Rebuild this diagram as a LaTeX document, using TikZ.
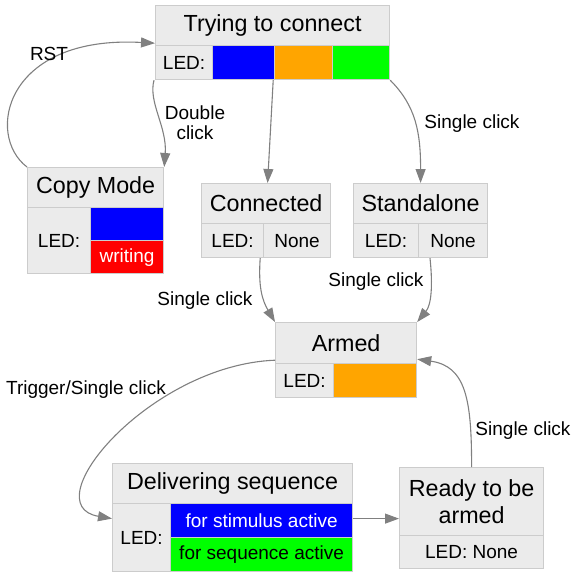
\documentclass[tikz,border=0pt]{standalone}
\usepackage{fontspec}
\setmainfont{Liberation Sans}
\usetikzlibrary{arrows.meta,calc}
\definecolor{boxfill}{HTML}{EBEBEB}
\definecolor{boxline}{HTML}{CCCCCC}
\definecolor{edgegray}{HTML}{808080}
\definecolor{ledblue}{HTML}{0000FF}
\definecolor{ledorange}{HTML}{FFA500}
\definecolor{ledgreen}{HTML}{00FF00}
\definecolor{ledred}{HTML}{FF0000}
\tikzset{
  cell/.style={draw=boxline, fill=boxfill, line width=1.2pt, inner sep=0pt, anchor=north west,
    font=\fontsize{19}{22}\selectfont, align=center},
  titlecell/.style={cell, font=\fontsize{23.3}{27}\selectfont},
  edge/.style={draw=edgegray, line width=1.1pt, -{Triangle[length=14pt,width=10pt]}},
  elabel/.style={font=\fontsize{19}{20}\selectfont, align=center, inner sep=0pt}
}
\begin{document}
\begin{tikzpicture}[x=1pt,y=-1pt]
\useasboundingbox (0,0) rectangle (578,576);
% Trying to connect
\node[titlecell, minimum width=234, minimum height=40] (tctitle) at (155,5) {Trying to connect};
\node[cell, minimum width=57, minimum height=34] (tcled) at (155,45) {LED:};
\node[cell, fill=ledblue, minimum width=62, minimum height=34] (tcblue) at (212,45) {};
\node[cell, fill=ledorange, minimum width=58, minimum height=34] (tcorange) at (274,45) {};
\node[cell, fill=ledgreen, minimum width=57, minimum height=34] (tcgreen) at (332,45) {};
% Copy Mode
\node[titlecell, minimum width=136, minimum height=40] (cmtitle) at (27,167) {Copy Mode};
\node[cell, minimum width=63, minimum height=66] (cmled) at (27,207) {LED:};
\node[cell, fill=ledblue, minimum width=73, minimum height=33] (cmblue) at (90,207) {};
\node[cell, fill=ledred, text=white, minimum width=73, minimum height=33] (cmred) at (90,240) {writing};
% Connected
\node[titlecell, minimum width=129, minimum height=40] (cntitle) at (201,183) {Connected};
\node[cell, minimum width=62, minimum height=34] (cnled) at (201,223) {LED:};
\node[cell, minimum width=67, minimum height=34] (cnnone) at (263,223) {None};
% Standalone
\node[titlecell, minimum width=134, minimum height=40] (sttitle) at (353,183) {Standalone};
\node[cell, minimum width=65, minimum height=34] (stled) at (353,223) {LED:};
\node[cell, minimum width=69, minimum height=34] (stnone) at (418,223) {None};
% Armed
\node[titlecell, minimum width=141, minimum height=41] (artitle) at (275,322) {Armed};
\node[cell, minimum width=58, minimum height=34] (arled) at (275,363) {LED:};
\node[cell, fill=ledorange, minimum width=83, minimum height=34] (arorange) at (333,363) {};
% Delivering sequence
\node[titlecell, minimum width=240, minimum height=40] (dstitle) at (112,463) {Delivering sequence};
\node[cell, minimum width=58, minimum height=68] (dsled) at (112,503) {LED:};
\node[cell, fill=ledblue, text=white, minimum width=182, minimum height=34] (dsblue) at (170,503) {for stimulus active};
\node[cell, fill=ledgreen, minimum width=182, minimum height=34] (dsgreen) at (170,537) {for sequence active};
% Ready to be armed
\node[titlecell, minimum width=144, minimum height=68] (rdtitle) at (399,467) {Ready to be\\armed};
\node[cell, minimum width=144, minimum height=33] (rdled) at (399,535) {LED: None};

% Edges
\draw[edge] ($(tcled.south west)+(-1,0)$) .. controls +(-6,22) and +(3,-40) .. (cmtitle.north east);
\node[elabel] (lbldbl) at (195,123) {Double\\click};

\draw[edge] (cmtitle.north west) .. controls (-15,135) and (5,35) .. ($(tctitle.south west)+(0,-3)$);
\node[elabel] (lblrst) at (49,54) {RST};

\draw[edge] ($(tcblue.south east)+(-2,0)$) -- ($(cntitle.north)+(1.5,0)$);

\draw[edge] (tcgreen.south east) .. controls +(26,26) and +(0,-50) .. (sttitle.north);
\node[elabel] (lblsa) at (472,124) {Single click};

\draw[edge] ($(cnled.south east)+(-4,0)$) .. controls +(-2,28) and +(-13,-22) .. (artitle.north west);
\node[elabel] (lblcn) at (205,301) {Single click};

\draw[edge] ($(stnone.south west)+(12,0)$) .. controls +(3,28) and +(14,-17) .. (artitle.north east);
\node[elabel] (lblst) at (376,282) {Single click};

\draw[edge] ($(artitle.south west)+(0,-4)$) .. controls (150,365) and (32,505) .. ($(dsblue.west -| dsled.west)+(0,-2)$);
\node[elabel] (lbltrig) at (86,390) {Trigger/Single click};

\draw[edge] ($(dsblue.east)+(0,-2)$) -- ($(dsblue.east -| rdtitle.west)+(0,-2)$);

\draw[edge] (rdtitle.north) .. controls +(0,-67) and +(49,7) .. ($(artitle.south east)+(0,-5)$);
\node[elabel] (lblrd) at (523,431) {Single click};
\end{tikzpicture}
\end{document}
